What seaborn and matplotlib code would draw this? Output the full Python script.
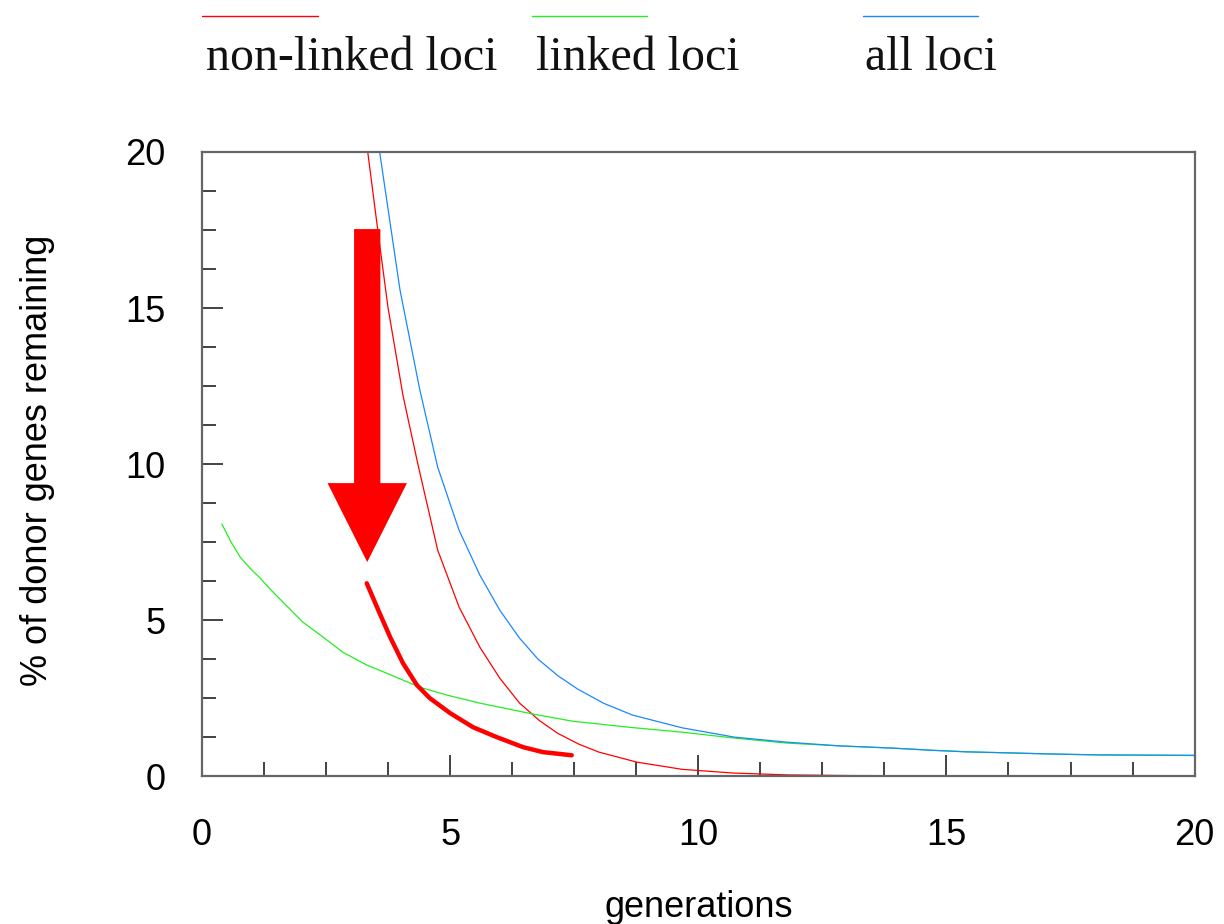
import matplotlib
matplotlib.use("Agg")
import matplotlib.pyplot as plt
import seaborn as sns
from matplotlib.lines import Line2D
from matplotlib.patches import FancyArrow
from matplotlib.ticker import MultipleLocator

# values
nonlinked_x = [3.34, 3.55, 3.75, 4.05, 4.35, 4.75, 5.18, 5.6, 6.0, 6.4, 6.8, 7.17, 7.6, 8.0, 8.76, 9.67, 10.7, 11.8, 13.0, 15.0, 17.5, 20.0]
nonlinked_y = [20.0, 17.4, 15.0, 12.2, 10.0, 7.24, 5.42, 4.13, 3.14, 2.34, 1.78, 1.37, 1.02, 0.77, 0.45, 0.22, 0.10, 0.04, 0.02, 0.01, 0.0, 0.0]

linked_x = [0.4, 0.58, 0.77, 0.97, 1.17, 1.4, 1.63, 2.03, 2.52, 2.84, 3.32, 3.72, 4.39, 4.93, 5.6, 6.67, 7.47, 8.65, 9.67, 10.73, 11.78, 12.85, 13.9, 14.7, 15.4, 16.4, 17.1, 18.1, 20.0]
linked_y = [8.08, 7.52, 7.02, 6.66, 6.35, 5.95, 5.58, 4.94, 4.36, 3.97, 3.56, 3.3, 2.85, 2.6, 2.34, 1.99, 1.76, 1.56, 1.41, 1.22, 1.06, 0.97, 0.9, 0.83, 0.78, 0.74, 0.71, 0.68, 0.66]

all_x = [3.58, 3.99, 4.39, 4.75, 5.18, 5.6, 6.0, 6.4, 6.77, 7.17, 7.57, 8.1, 8.67, 9.67, 10.73, 11.78, 12.85, 13.9, 14.7, 15.4, 16.4, 17.1, 18.1, 20.0]
all_y = [20.0, 15.58, 12.37, 9.9, 7.88, 6.44, 5.32, 4.42, 3.75, 3.22, 2.79, 2.33, 1.96, 1.55, 1.25, 1.09, 0.97, 0.9, 0.83, 0.78, 0.74, 0.71, 0.68, 0.67]

highlight_x = [3.32, 3.58, 3.79, 4.05, 4.33, 4.59, 5.0, 5.46, 5.94, 6.47, 6.87, 7.45]
highlight_y = [6.18, 5.22, 4.46, 3.62, 2.92, 2.5, 2.02, 1.57, 1.25, 0.93, 0.77, 0.67]

labels = ["non-linked loci", "linked loci", "all loci"]
colors = ["#ff0000", "#22ee22", "#1a88ff"]

sns.set_style("white")
plt.rcParams["font.family"] = ["Liberation Sans", "DejaVu Sans"]
plt.rcParams["text.color"] = "black"
plt.rcParams["axes.labelcolor"] = "black"
plt.rcParams["xtick.color"] = "black"
plt.rcParams["ytick.color"] = "black"

fig = plt.figure(figsize=(12.24, 9.24), dpi=100)
ax = fig.add_axes([0.165, 0.160, 0.811, 0.6755])

sns.lineplot(x=nonlinked_x, y=nonlinked_y, ax=ax, color=colors[0], linewidth=0.9, sort=False)
sns.lineplot(x=linked_x, y=linked_y, ax=ax, color=colors[1], linewidth=0.9, sort=False)
sns.lineplot(x=all_x, y=all_y, ax=ax, color=colors[2], linewidth=0.9, sort=False)
sns.lineplot(x=highlight_x, y=highlight_y, ax=ax, color=colors[0], linewidth=3.2, sort=False)

ax.add_patch(FancyArrow(3.33, 17.53, 0, -10.67, width=0.53, head_width=1.6,
                        head_length=2.53, length_includes_head=True,
                        color="#ff0000", linewidth=0))

ax.set_xlim(0, 20)
ax.set_ylim(0, 20)
ax.xaxis.set_major_locator(MultipleLocator(5))
ax.xaxis.set_minor_locator(MultipleLocator(1.25))
ax.yaxis.set_major_locator(MultipleLocator(5))
ax.yaxis.set_minor_locator(MultipleLocator(1.25))
ax.tick_params(which="both", direction="in", color="#222222", width=1.2,
               bottom=True, left=True, top=False, right=False)
ax.tick_params(which="major", length=15, labelsize=26)
ax.tick_params(which="minor", length=10)
ax.tick_params(axis="x", which="major", pad=30)
ax.tick_params(axis="y", which="major", pad=26)
for s in ax.spines.values():
    s.set_color("#666666")
    s.set_linewidth(1.6)

ax.set_xlabel("generations", fontsize=26)
ax.set_ylabel("% of donor genes remaining", fontsize=26)
ax.xaxis.set_label_coords(0.5, -0.183)
ax.yaxis.set_label_coords(-0.148, 0.506)

# legend across the top: line above each label
legend_x = [(0.165, 0.260, 0.168), (0.435, 0.529, 0.438), (0.705, 0.799, 0.707)]
for (x0, x1, tx), lab, c in zip(legend_x, labels, colors):
    fig.add_artist(Line2D([x0, x1], [0.983, 0.983], color=c, linewidth=1.0,
                          transform=fig.transFigure))
    fig.text(tx, 0.924, lab, fontsize=34.5, family=["Liberation Serif", "DejaVu Serif"],
             color="#111111", va="baseline", ha="left")

fig.savefig("out.png", dpi=100)
